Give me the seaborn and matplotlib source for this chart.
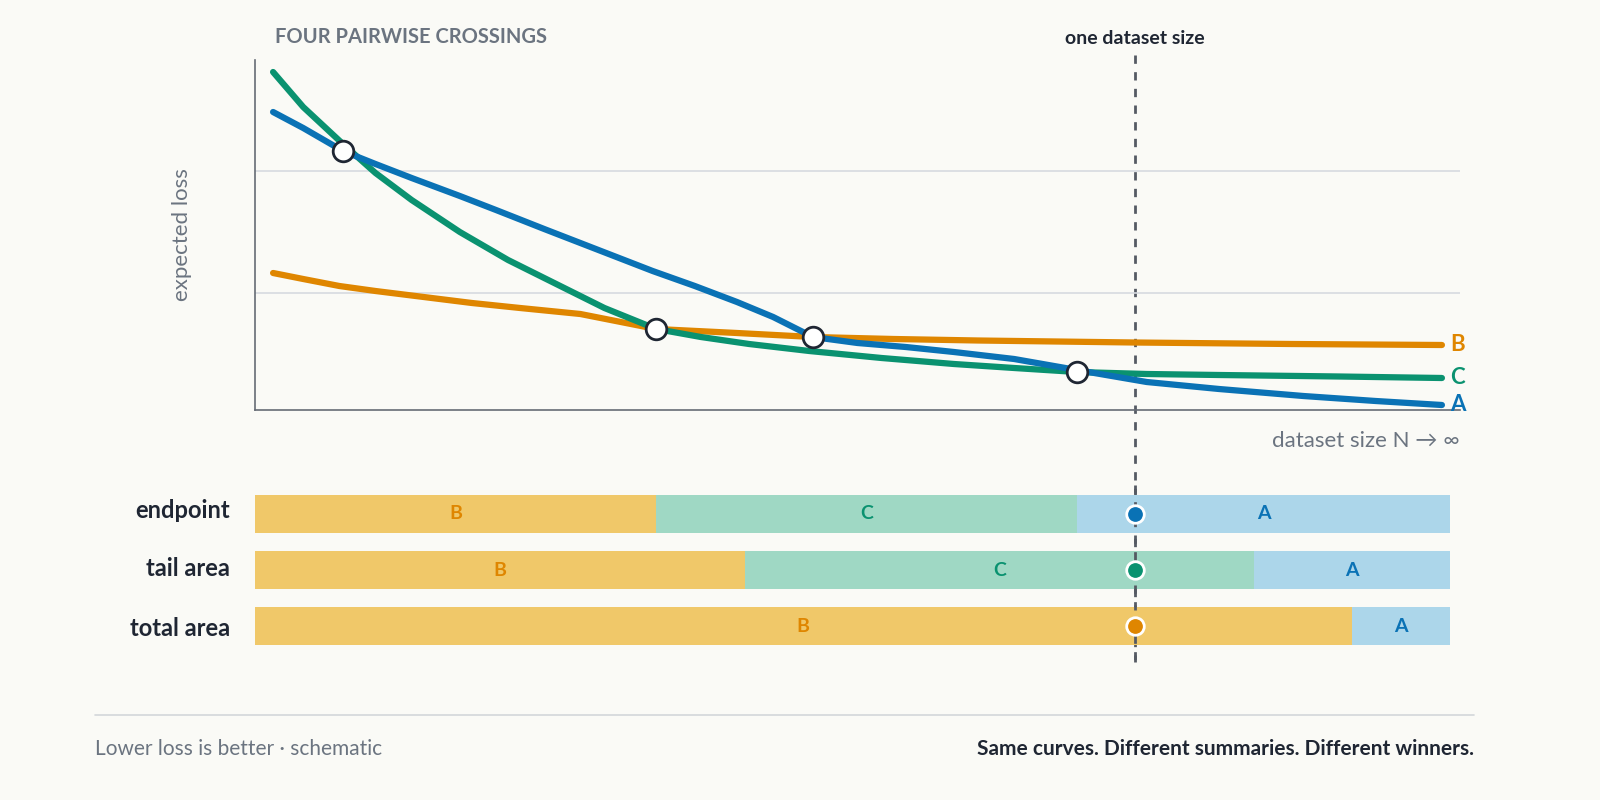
import numpy as np
import pandas as pd
import matplotlib.pyplot as plt
import seaborn as sns
from matplotlib.lines import Line2D

sns.set_theme(style="white")
plt.rcParams['font.family'] = ['Lato', 'DejaVu Sans']

BG = "#fafaf6"
DARK = "#1f2633"
GRAY = "#6b7480"
COL = {"A": "#0a72b5", "B": "#df8600", "C": "#0a9270"}
LIGHT = {"A": "#acd6ea", "B": "#f0c869", "C": "#9fd8c4"}

# x in % of the plot width, y in schematic loss units
a_x = [1.5, 4, 7.3, 10, 13, 17, 20, 24, 27, 30, 33, 36.5, 40, 43, 46.3, 50, 54, 58, 63, 68.2, 74, 80, 87, 93, 98.5]
a_y = [29.8, 28.2, 25.9, 24.6, 23.2, 21.4, 20.0, 18.1, 16.7, 15.3, 13.9, 12.4, 10.8, 9.3, 7.3, 6.7, 6.3, 5.8, 5.1, 4.0, 2.8, 2.1, 1.4, 0.9, 0.5]
c_x = [1.5, 4, 7.3, 10, 13, 17, 21, 25, 29, 33.3, 37, 41, 46, 52, 58, 63, 68.2, 74, 80, 90, 98.5]
c_y = [33.8, 30.3, 26.6, 23.7, 21.0, 17.8, 15.0, 12.6, 10.2, 8.1, 7.3, 6.6, 5.9, 5.2, 4.6, 4.2, 3.8, 3.6, 3.5, 3.35, 3.2]
b_x = [1.5, 4, 7, 10, 14, 18, 22, 27, 33.3, 40, 46.3, 53, 60, 73, 86, 98.5]
b_y = [13.7, 13.1, 12.4, 11.9, 11.3, 10.7, 10.2, 9.6, 8.1 + 0.0, 7.7, 7.3, 7.1, 6.95, 6.75, 6.6, 6.5]
b_y[8] = 8.1
cross_x = [7.3, 33.3, 46.3, 68.2]
cross_y = [25.9, 8.1, 7.3, 3.8]
dataset_x = 73.0

rows = ["endpoint", "tail area", "total area"]
seg_winners = [["B", "C", "A"], ["B", "C", "A"], ["B", "A"]]
seg_edges = [[0, 33.3, 68.2, 99.2], [0, 40.7, 82.9, 99.2], [0, 91.0, 99.2]]
row_winner = ["A", "C", "B"]

W, H = 1600, 800
fig = plt.figure(figsize=(16, 8), dpi=100, facecolor=BG)

def px_axes(x0, y0, x1, y1):
    return fig.add_axes([x0 / W, 1 - y1 / H, (x1 - x0) / W, (y1 - y0) / H])

ax = px_axes(255, 60, 1460, 410)
ax.set_facecolor("none")
ax.set_zorder(2)
ax.set_xlim(0, 100)
ax.set_ylim(0, 35)
for gy in [11.7, 23.9]:
    ax.axhline(gy, color="#d6dae0", lw=1.2, zorder=0)
for xs, ys, k in [(b_x, b_y, "B"), (c_x, c_y, "C"), (a_x, a_y, "A")]:
    sns.lineplot(x=xs, y=ys, ax=ax, color=COL[k], lw=4.5, sort=False,
                 solid_capstyle="round", solid_joinstyle="round", zorder=3)
    ax.text(99.2, ys[-1], k, color=COL[k], fontsize=16, fontweight="bold",
            va="center", ha="left", clip_on=False)
ax.scatter(cross_x, cross_y, s=220, facecolor="white", edgecolor=DARK,
           linewidth=2, zorder=5)
ax.set_xticks([])
ax.set_yticks([])
for s in ["top", "right"]:
    ax.spines[s].set_visible(False)
for s in ["left", "bottom"]:
    ax.spines[s].set_color("#666c75")
    ax.spines[s].set_linewidth(1.2)
ax.set_ylabel("expected loss", color=GRAY, fontsize=16, labelpad=45)
ax.text(100, -3.1, "dataset size N → ∞", color=GRAY, fontsize=16, ha="right", va="center")

bx = px_axes(255, 480, 1460, 660)
bx.set_facecolor("none")
bx.set_zorder(2)
bx.set_xlim(0, 100)
bx.set_ylim(2.6, -0.6)
bx.axis("off")
for i, r in enumerate(rows):
    e = seg_edges[i]
    for j, k in enumerate(seg_winners[i]):
        bx.barh(i, e[j + 1] - e[j], left=e[j], height=0.68, color=LIGHT[k], lw=0, zorder=1)
        mid = (e[j] + e[j + 1]) / 2
        bx.text(mid, i, k, color=COL[k], fontsize=14, fontweight="bold",
                ha="center", va="center", zorder=2)
    bx.scatter([dataset_x], [i], s=160, color=COL[row_winner[i]],
               edgecolor="white", linewidth=2, zorder=5)
    fig.text(230 / W, 1 - (510 + 59 * i) / H, r, color=DARK, fontsize=17,
             fontweight="bold", ha="right", va="center")

lx = (255 + dataset_x / 100 * 1205) / W
fig.add_artist(Line2D([lx, lx], [1 - 55 / H, 1 - 662 / H], color="#555a63",
                      lw=2, ls=(0, (3, 3)), zorder=0.5))
# redraw line segment over the bars (bars are below the dots but above the line otherwise)
bx.axvline(dataset_x, color="#555a63", lw=2, ls=(0, (3, 3)), zorder=4)
fig.text(lx, 1 - 38 / H, "one dataset size", color=DARK, fontsize=14,
         fontweight="bold", ha="center", va="center")
fig.text(275 / W, 1 - 37 / H, "FOUR PAIRWISE CROSSINGS", color=GRAY,
         fontsize=14.5, fontweight="bold", ha="left", va="center")

fig.add_artist(Line2D([95 / W, 1474 / W], [1 - 715 / H] * 2, color="#d3d6da", lw=1.2))
fig.text(95 / W, 1 - 749 / H, "Lower loss is better · schematic", color=GRAY,
         fontsize=15, ha="left", va="center")
fig.text(1474 / W, 1 - 749 / H, "Same curves. Different summaries. Different winners.",
         color=DARK, fontsize=15, fontweight="bold", ha="right", va="center")

fig.savefig("out.png", dpi=100, facecolor=BG)
